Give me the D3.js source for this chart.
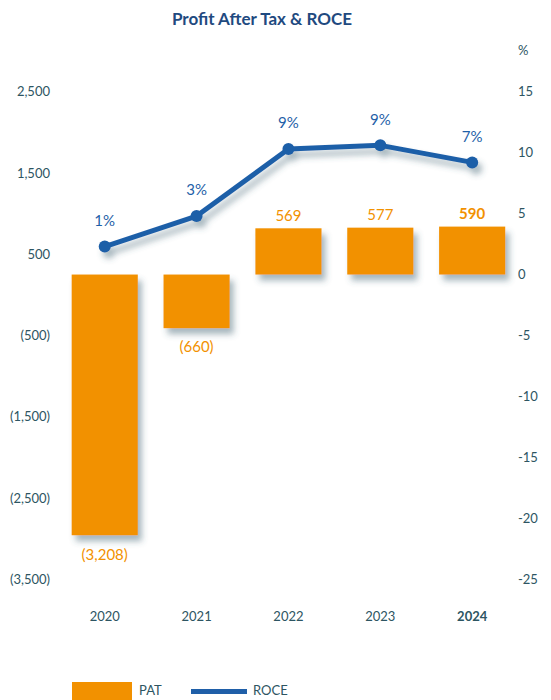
<!DOCTYPE html>
<html>
<head>
<meta charset="utf-8">
<script src="https://cdn.jsdelivr.net/npm/d3@7"></script>
<style>
  html, body { margin: 0; padding: 0; background: #fff; }
  svg { display: block; font-family: Lato, "Open Sans", sans-serif; }
</style>
</head>
<body>
<svg id="chart" width="551" height="700"></svg>
<script>
// ---- data ----
const years = ["2020", "2021", "2022", "2023", "2024"];
const pat = [-3208, -660, 569, 577, 590];
const patLabels = ["(3,208)", "(660)", "569", "577", "590"];
const roce = [2.3, 4.8, 10.3, 10.6, 9.2];
const roceLabels = ["1%", "3%", "9%", "9%", "7%"];
const leftTicks = [2500, 1500, 500, -500, -1500, -2500, -3500];
const rightTicks = [15, 10, 5, 0, -5, -10, -15, -20, -25];
const boldIndex = 4;

// ---- styles ----
const orange = "#f29100";
const blue = "#1f5fa8";
const axisColor = "#2d5562";
const titleColor = "#1f4a80";

const svg = d3.select("#chart");

const defs = svg.append("defs");
const f = defs.append("filter").attr("id", "shadow")
  .attr("x", "-30%").attr("y", "-30%").attr("width", "160%").attr("height", "160%");
f.append("feDropShadow").attr("dx", 4).attr("dy", 6).attr("stdDeviation", 3)
  .attr("flood-color", "#3d5f6e").attr("flood-opacity", 0.45);

// scales
const x = d3.scaleBand().domain(years).range([58.8, 518.1])
  .paddingInner(0.28).paddingOuter(0.14);
const yPat = d3.scaleLinear().domain([-3750, 2250]).range([579.3, 91.7]);
const yLeftLabel = d3.scaleLinear().domain([-3500, 2500]).range([579.3, 91.7]);
const yRoce = d3.scaleLinear().domain([-25, 15]).range([579.3, 91.7]);

// title
svg.append("text").attr("x", 262).attr("y", 25).attr("text-anchor", "middle")
  .attr("font-size", 17).attr("font-weight", "bold").attr("fill", titleColor)
  .text("Profit After Tax & ROCE");

// left axis
const fmtNum = d3.format(",");
const leftAxis = d3.axisLeft(yLeftLabel).tickValues(leftTicks).tickSize(0).tickPadding(0)
  .tickFormat(d => d < 0 ? "(" + fmtNum(-d) + ")" : fmtNum(d));
const gl = svg.append("g").attr("transform", "translate(50,0)").call(leftAxis);
gl.select(".domain").remove();
gl.selectAll("text").attr("fill", axisColor).attr("font-size", 13)
  .attr("font-family", "Lato, sans-serif");

// right axis
const rightAxis = d3.axisRight(yRoce).tickValues(rightTicks).tickSize(0).tickPadding(0)
  .tickFormat(d => String(d));
const gr = svg.append("g").attr("transform", "translate(518,0)").call(rightAxis);
gr.select(".domain").remove();
gr.selectAll("text").attr("fill", axisColor).attr("font-size", 13)
  .attr("font-family", "Lato, sans-serif");
svg.append("text").attr("x", 518).attr("y", 51).attr("dy", "0.32em")
  .attr("font-size", 13).attr("fill", axisColor).text("%");

// x axis labels
const xAxis = d3.axisBottom(x).tickSize(0).tickPadding(0);
const gx = svg.append("g").attr("transform", "translate(0,612)").call(xAxis);
gx.select(".domain").remove();
gx.selectAll("text").attr("fill", axisColor).attr("font-size", 13)
  .attr("font-family", "Lato, sans-serif")
  .attr("font-weight", (d, i) => i === boldIndex ? "bold" : "normal");

// bars
svg.append("g").selectAll("rect").data(pat).join("rect")
  .attr("x", (d, i) => x(years[i]))
  .attr("width", x.bandwidth())
  .attr("y", d => yPat(Math.max(0, d)))
  .attr("height", d => Math.abs(yPat(d) - yPat(0)))
  .attr("fill", orange)
  .attr("filter", "url(#shadow)");

// bar labels
svg.append("g").selectAll("text").data(pat).join("text")
  .attr("x", (d, i) => x(years[i]) + x.bandwidth() / 2)
  .attr("y", d => d >= 0 ? yPat(d) - 13 : yPat(d) + 19)
  .attr("dy", "0.35em")
  .attr("text-anchor", "middle")
  .attr("font-size", 15)
  .attr("font-weight", (d, i) => i === boldIndex ? "bold" : "normal")
  .attr("fill", orange)
  .text((d, i) => patLabels[i]);

// ROCE line
const line = d3.line()
  .x((d, i) => x(years[i]) + x.bandwidth() / 2)
  .y(d => yRoce(d));
const lg = svg.append("g").attr("filter", "url(#shadow)");
lg.append("path").datum(roce).attr("d", line)
  .attr("fill", "none").attr("stroke", blue).attr("stroke-width", 5)
  .attr("stroke-linejoin", "round");
lg.selectAll("circle").data(roce).join("circle")
  .attr("cx", (d, i) => x(years[i]) + x.bandwidth() / 2)
  .attr("cy", d => yRoce(d))
  .attr("r", 6).attr("fill", blue);

// ROCE labels
svg.append("g").selectAll("text").data(roce).join("text")
  .attr("x", (d, i) => x(years[i]) + x.bandwidth() / 2)
  .attr("y", d => yRoce(d) - 26)
  .attr("dy", "0.35em")
  .attr("text-anchor", "middle")
  .attr("font-size", 15)
  .attr("fill", blue)
  .text((d, i) => roceLabels[i]);

// legend
const leg = svg.append("g");
leg.append("rect").attr("x", 72).attr("y", 682).attr("width", 60).attr("height", 20).attr("fill", orange);
leg.append("text").attr("x", 139).attr("y", 690).attr("dy", "0.35em")
  .attr("font-size", 13).attr("fill", axisColor).text("PAT");
leg.append("line").attr("x1", 191).attr("x2", 247).attr("y1", 691.5).attr("y2", 691.5)
  .attr("stroke", blue).attr("stroke-width", 5);
leg.append("text").attr("x", 253).attr("y", 690).attr("dy", "0.35em")
  .attr("font-size", 13).attr("fill", axisColor).text("ROCE");
</script>
</body>
</html>
